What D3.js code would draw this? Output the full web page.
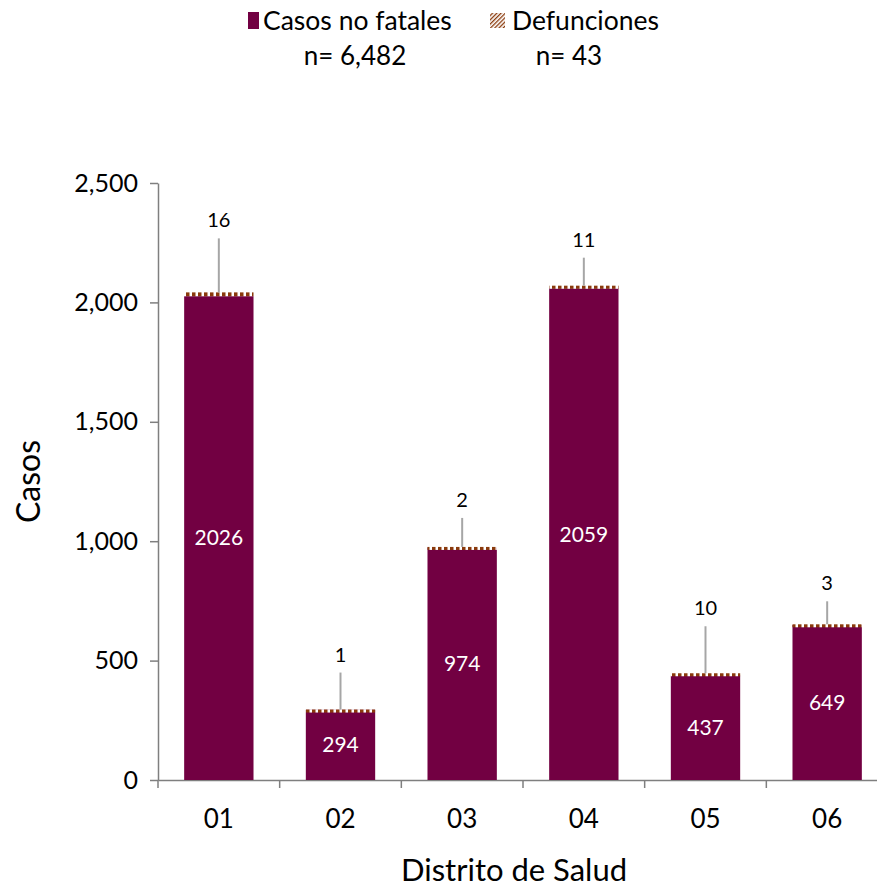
<!DOCTYPE html>
<html lang="es">
<head>
  <meta charset="UTF-8">
  <title>Casos por Distrito de Salud</title>
  <script src="https://d3js.org/d3.v7.min.js"></script>
  <style>
    body {
      margin: 0;
      background: #fff;
    }
    svg text {
      font-family: Lato, "Open Sans", sans-serif;
    }
  </style>
</head>
<body>
  <div id="chart"></div>

  <script>
    // datos
    const distritos = ["01", "02", "03", "04", "05", "06"];
    const noFatales = [2026, 294, 974, 2059, 437, 649];
    const defunciones = [16, 1, 2, 11, 10, 3];
    const yTicks = [0, 500, 1000, 1500, 2000, 2500];
    // altura de las etiquetas de defunciones sobre la barra (px), como en el original
    const labelLift = [72, 55, 47, 46, 65, 41];

    const width = 877, height = 888;
    const margin = {top: 183, right: -11, bottom: 108, left: 158};
    const colorBar = "#720042";
    const colorHatch = "#8a3a0c";

    const svg = d3.select("#chart").append("svg")
      .attr("width", width)
      .attr("height", height);

    const defs = svg.append("defs");
    const pat = defs.append("pattern")
      .attr("id", "hatch")
      .attr("patternUnits", "userSpaceOnUse")
      .attr("width", 6)
      .attr("height", 4);
    pat.append("rect").attr("width", 6).attr("height", 4).attr("fill", "#fff");
    pat.append("rect").attr("width", 3.5).attr("height", 4).attr("fill", colorHatch);

    const patLeg = defs.append("pattern")
      .attr("id", "hatchLeg")
      .attr("patternUnits", "userSpaceOnUse")
      .attr("width", 3)
      .attr("height", 3)
      .attr("patternTransform", "rotate(45)");
    patLeg.append("rect").attr("width", 3).attr("height", 3).attr("fill", "#fff");
    patLeg.append("rect").attr("width", 1.3).attr("height", 3).attr("fill", colorHatch);

    const x = d3.scaleBand()
      .domain(distritos)
      .range([margin.left, width - margin.right])
      .paddingInner(0.43)
      .paddingOuter(0.215);

    const y = d3.scaleLinear()
      .domain([0, 2500])
      .range([height - margin.bottom, margin.top]);

    const g = svg.append("g");

    // ejes
    const xAxis = g.append("g")
      .attr("transform", `translate(0,${y(0)})`)
      .call(d3.axisBottom(x).tickSize(0).tickPadding(30));
    xAxis.select(".domain").attr("stroke", "#7f7f7f").attr("stroke-width", 1.5);
    xAxis.selectAll("text").attr("font-size", 26).attr("fill", "#000");

    // marcas del eje x entre categorías
    const step = x.step();
    g.append("g").selectAll("line")
      .data(distritos)
      .join("line")
      .attr("x1", (d, i) => margin.left + i * step)
      .attr("x2", (d, i) => margin.left + i * step)
      .attr("y1", y(0))
      .attr("y2", y(0) + 8)
      .attr("stroke", "#7f7f7f")
      .attr("stroke-width", 1.5);

    const yAxis = g.append("g")
      .attr("transform", `translate(${margin.left},0)`)
      .call(d3.axisLeft(y).tickValues(yTicks).tickSize(8).tickSizeOuter(0)
        .tickPadding(12).tickFormat(d3.format(",")));
    yAxis.select(".domain").attr("stroke", "#7f7f7f").attr("stroke-width", 1.5);
    yAxis.selectAll(".tick line").attr("stroke", "#7f7f7f").attr("stroke-width", 1.5);
    yAxis.selectAll("text").attr("font-size", 25).attr("fill", "#000");

    // barras
    const bars = g.append("g").selectAll("g")
      .data(distritos)
      .join("g");

    bars.append("rect")
      .attr("x", d => x(d))
      .attr("width", x.bandwidth())
      .attr("y", (d, i) => y(noFatales[i]))
      .attr("height", (d, i) => y(0) - y(noFatales[i]))
      .attr("fill", colorBar);

    bars.append("rect")
      .attr("x", d => x(d))
      .attr("width", x.bandwidth())
      .attr("y", (d, i) => y(noFatales[i] + defunciones[i]))
      .attr("height", (d, i) => Math.max(y(noFatales[i]) - y(noFatales[i] + defunciones[i]), 3))
      .attr("fill", "url(#hatch)");

    bars.append("text")
      .attr("x", d => x(d) + x.bandwidth() / 2)
      .attr("y", (d, i) => (y(0) + y(noFatales[i])) / 2)
      .attr("dy", "0.35em")
      .attr("text-anchor", "middle")
      .attr("font-size", 21)
      .attr("fill", "#fff")
      .text((d, i) => noFatales[i]);

    // líneas guía y etiquetas de defunciones
    bars.append("line")
      .attr("x1", d => x(d) + x.bandwidth() / 2)
      .attr("x2", d => x(d) + x.bandwidth() / 2)
      .attr("y1", (d, i) => y(noFatales[i] + defunciones[i]))
      .attr("y2", (d, i) => y(noFatales[i] + defunciones[i]) - labelLift[i] + 18)
      .attr("stroke", "#a6a6a6")
      .attr("stroke-width", 2);

    bars.append("text")
      .attr("x", d => x(d) + x.bandwidth() / 2)
      .attr("y", (d, i) => y(noFatales[i] + defunciones[i]) - labelLift[i])
      .attr("dy", "0.35em")
      .attr("text-anchor", "middle")
      .attr("font-size", 20)
      .attr("fill", "#000")
      .text((d, i) => defunciones[i]);

    // títulos de ejes
    svg.append("text")
      .attr("transform", `translate(40,${(y(0) + y(2500)) / 2}) rotate(-90)`)
      .attr("text-anchor", "middle")
      .attr("font-size", 32)
      .attr("fill", "#000")
      .text("Casos");

    svg.append("text")
      .attr("x", 514)
      .attr("y", 881)
      .attr("text-anchor", "middle")
      .attr("font-size", 31)
      .attr("fill", "#000")
      .text("Distrito de Salud");

    // leyenda
    const leg = svg.append("g");
    leg.append("rect").attr("x", 248).attr("y", 12).attr("width", 11).attr("height", 17).attr("fill", colorBar);
    leg.append("text").attr("x", 263).attr("y", 30).attr("font-size", 26.5).text("Casos no fatales");
    leg.append("text").attr("x", 355).attr("y", 65).attr("font-size", 26).attr("text-anchor", "middle").text("n= 6,482");
    leg.append("rect").attr("x", 490).attr("y", 13).attr("width", 15).attr("height", 15).attr("fill", "url(#hatchLeg)");
    leg.append("text").attr("x", 512).attr("y", 30).attr("font-size", 26.5).text("Defunciones");
    leg.append("text").attr("x", 569).attr("y", 65).attr("font-size", 26).attr("text-anchor", "middle").text("n= 43");
  </script>
</body>
</html>
